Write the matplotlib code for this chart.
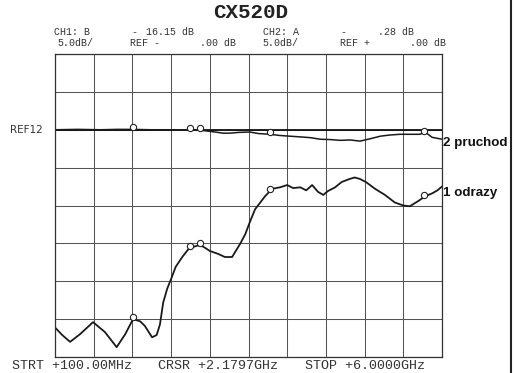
import numpy as np
import matplotlib
matplotlib.use('Agg')
import matplotlib.pyplot as plt
from matplotlib.lines import Line2D

# ------------------------------------------------------------
# data (freq in GHz, level in dB)
# ------------------------------------------------------------
f_start, f_stop = 0.1, 6.0
db_ref = 0.0
db_per_div = 5.0

# CH2: transmission (pruchod)
f_ch2 = [0.10, 0.45, 0.79, 1.05, 1.29, 1.55, 1.85, 2.10, 2.31, 2.45, 2.54,
         2.66, 2.77, 2.90, 3.07, 3.20, 3.38, 3.52, 3.68, 3.85, 4.00, 4.14,
         4.30, 4.45, 4.60, 4.75, 4.90, 5.06, 5.20, 5.36, 5.50, 5.66, 5.75,
         5.85, 6.00]
db_ch2 = [0.0, 0.05, 0.0, 0.05, 0.05, 0.0, 0.0, -0.05, -0.05, -0.2, -0.3,
          -0.45, -0.45, -0.35, -0.3, -0.5, -0.6, -0.75, -0.85, -0.95, -1.05,
          -1.25, -1.3, -1.4, -1.35, -1.5, -1.2, -0.85, -0.7, -0.6, -0.6, -0.6,
          -0.35, -1.0, -1.25]

# CH1: reflection (odrazy)
f_ch1 = [0.10, 0.21, 0.33, 0.48, 0.68, 0.86, 1.04, 1.17, 1.29, 1.40, 1.47,
         1.58, 1.65, 1.70, 1.75, 1.81, 1.87, 1.94, 2.04, 2.13, 2.23, 2.31,
         2.39, 2.46, 2.59, 2.69, 2.80, 2.92, 3.00, 3.07, 3.15, 3.23, 3.30,
         3.41, 3.53, 3.64, 3.73, 3.84, 3.93, 4.02, 4.11, 4.19, 4.26, 4.37,
         4.47, 4.59, 4.67, 4.75, 4.84, 4.98, 5.13, 5.28, 5.41, 5.51, 5.64,
         5.74, 5.85, 5.93, 6.00]
db_ch1 = [-26.1, -27.1, -28.0, -27.0, -25.4, -26.7, -28.7, -27.0, -25.0,
          -25.3, -25.9, -27.4, -27.1, -25.7, -22.8, -21.0, -19.7, -18.1,
          -16.8, -15.8, -15.4, -15.2, -15.6, -16.0, -16.4, -16.8, -16.8,
          -15.1, -13.8, -12.2, -10.5, -9.6, -8.8, -7.8, -7.6, -7.3, -7.7,
          -7.6, -8.0, -7.3, -8.2, -8.6, -8.1, -7.6, -6.9, -6.5, -6.3, -6.5,
          -6.9, -7.8, -8.6, -9.6, -10.0, -10.1, -9.4, -8.8, -8.4, -8.0, -7.5]

# marker frequencies (same for both channels)
f_markers = [1.29, 2.16, 2.31, 3.38, 5.72]

title = 'CX520D'
hdr_row1 = [(54, 'CH1: B'), (131, '-'), (146, '16.15 dB'),
            (263, 'CH2: A'), (340, '-'), (378, '.28 dB')]
hdr_row2 = [(57, '5.0dB/'), (130, 'REF -'), (200, '.00 dB'),
            (262, '5.0dB/'), (340, 'REF +'), (410, '.00 dB')]
footer = [(12, 'STRT +100.00MHz'), (158, 'CRSR +2.1797GHz'),
          (305, 'STOP +6.0000GHz')]

W, H = 515, 373
fig = plt.figure(figsize=(W / 100, H / 100), dpi=100)
fig.patch.set_facecolor('white')

# axes box in pixel coordinates of the reference
x0, x1, y_top, y_bot = 55, 442, 54, 357
ax = fig.add_axes([x0 / W, 1 - y_bot / H, (x1 - x0) / W, (y_bot - y_top) / H])

ndiv_x, ndiv_y = 10, 8
y_hi = db_ref + 2 * db_per_div
y_lo = y_hi - ndiv_y * db_per_div
ax.set_xlim(f_start, f_stop)
ax.set_ylim(y_lo, y_hi)
ax.set_xticks(np.linspace(f_start, f_stop, ndiv_x + 1))
ax.set_yticks(np.arange(y_lo, y_hi + 0.1, db_per_div))
ax.tick_params(length=0, labelbottom=False, labelleft=False)
ax.grid(True, color='#555555', linewidth=0.75)
for s in ax.spines.values():
    s.set_linewidth(0.9)
    s.set_color('#333333')

# reference line
ax.axhline(db_ref, color='#111111', linewidth=1.3)

ax.plot(f_ch2, db_ch2, color='#1a1a1a', linewidth=1.1)
ax.plot(f_ch1, db_ch1, color='#1a1a1a', linewidth=1.3)

m2 = np.interp(f_markers, f_ch2, db_ch2)
m1 = np.interp(f_markers, f_ch1, db_ch1)
ax.plot(f_markers, m2 + 0.3, 'o', ms=4.5, mfc='white', mec='#222222', mew=0.8)
ax.plot(f_markers, m1 + 0.3, 'o', ms=4.5, mfc='white', mec='#222222', mew=0.8)

mono = 'Liberation Mono'


def px(x, y):
    return x / W, 1 - y / H


fig.text(*px(251, 13), title, ha='center', va='center', family=mono,
         fontsize=15, fontweight='bold', color='#222222')
for x, s in hdr_row1:
    fig.text(*px(x, 32), s, ha='left', va='center', family=mono,
             fontsize=7.2, color='#333333')
for x, s in hdr_row2:
    fig.text(*px(x, 43), s, ha='left', va='center', family=mono,
             fontsize=7.2, color='#333333')
for x, s in footer:
    fig.text(*px(x, 366), s, ha='left', va='center', family=mono,
             fontsize=9.6, color='#333333')

fig.text(*px(10, 130), 'REF12', ha='left', va='center', family='DejaVu Sans',
         fontsize=7.5, color='#333333')
fig.text(*px(443, 143), '2 pruchod', ha='left', va='center',
         family='Liberation Sans', fontweight='bold', fontsize=9.6, color='#111111')
fig.text(*px(443, 193), '1 odrazy', ha='left', va='center',
         family='Liberation Sans', fontweight='bold', fontsize=9.6, color='#111111')

# scan border on the right
fig.add_artist(Line2D([510.5 / W, 510.5 / W], [0, 1], color='#222222',
                      linewidth=1.5))

fig.savefig('out.png', dpi=100)
